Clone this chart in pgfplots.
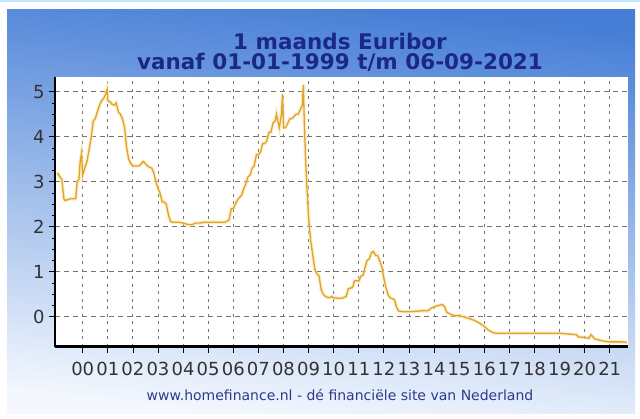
\documentclass[border=0pt]{standalone}
\usepackage{pgfplots}
\pgfplotsset{compat=1.18}
\usepackage{fontspec}
\setmainfont{DejaVu Sans}
\definecolor{titleblue}{RGB}{28,40,135}
\definecolor{footblue}{RGB}{44,58,140}
\definecolor{panelTop}{RGB}{70,126,214}
\definecolor{panelMid}{RGB}{160,194,238}
\definecolor{panelBot}{RGB}{244,248,254}
\definecolor{eurline}{RGB}{224,164,46}
\definecolor{eurglow}{RGB}{250,225,160}
\definecolor{ticktext}{RGB}{50,50,50}
\pgfplotstableread{
x y
1999.00 3.20
1999.04 3.15
1999.10 3.10
1999.17 3.05
1999.25 2.62
1999.30 2.58
1999.40 2.60
1999.50 2.62
1999.60 2.62
1999.72 2.62
1999.78 3.00
1999.85 3.05
1999.90 3.45
1999.95 3.62
2000.00 3.15
2000.08 3.30
2000.17 3.45
2000.25 3.70
2000.33 3.95
2000.42 4.35
2000.50 4.40
2000.58 4.55
2000.67 4.70
2000.75 4.80
2000.83 4.85
2000.92 4.95
2000.97 5.05
2001.00 4.80
2001.08 4.78
2001.17 4.72
2001.25 4.70
2001.33 4.75
2001.42 4.55
2001.50 4.50
2001.58 4.40
2001.67 4.20
2001.75 3.75
2001.83 3.50
2001.92 3.40
2002.00 3.35
2002.08 3.35
2002.17 3.35
2002.25 3.35
2002.33 3.40
2002.42 3.45
2002.50 3.40
2002.58 3.35
2002.67 3.32
2002.75 3.30
2002.83 3.20
2002.92 3.00
2003.00 2.85
2003.08 2.75
2003.17 2.55
2003.25 2.55
2003.33 2.50
2003.42 2.25
2003.50 2.12
2003.58 2.10
2003.67 2.10
2003.83 2.10
2004.00 2.08
2004.17 2.05
2004.33 2.04
2004.50 2.08
2004.67 2.08
2004.83 2.10
2005.00 2.10
2005.17 2.10
2005.33 2.10
2005.50 2.10
2005.67 2.10
2005.83 2.15
2005.92 2.40
2006.00 2.40
2006.08 2.50
2006.17 2.60
2006.25 2.65
2006.33 2.70
2006.42 2.85
2006.50 2.95
2006.58 3.10
2006.67 3.15
2006.75 3.30
2006.83 3.35
2006.92 3.60
2007.00 3.60
2007.08 3.65
2007.17 3.85
2007.25 3.85
2007.33 3.90
2007.42 4.10
2007.50 4.10
2007.58 4.30
2007.67 4.35
2007.72 4.50
2007.83 4.20
2007.92 4.50
2007.96 4.95
2008.00 4.20
2008.08 4.20
2008.17 4.30
2008.25 4.40
2008.33 4.40
2008.42 4.45
2008.50 4.50
2008.58 4.50
2008.67 4.60
2008.75 4.70
2008.79 5.15
2008.83 4.30
2008.88 3.50
2008.92 3.00
2009.00 2.20
2009.08 1.70
2009.17 1.35
2009.25 1.05
2009.33 0.95
2009.42 0.90
2009.50 0.60
2009.58 0.50
2009.67 0.45
2009.75 0.43
2009.83 0.42
2009.92 0.45
2010.00 0.42
2010.17 0.41
2010.33 0.41
2010.50 0.45
2010.58 0.62
2010.75 0.65
2010.83 0.80
2010.92 0.80
2011.00 0.79
2011.08 0.90
2011.17 0.92
2011.25 1.10
2011.33 1.25
2011.42 1.28
2011.50 1.42
2011.58 1.45
2011.67 1.36
2011.75 1.36
2011.83 1.25
2011.92 1.10
2012.00 0.85
2012.08 0.65
2012.17 0.48
2012.25 0.42
2012.33 0.40
2012.42 0.38
2012.50 0.22
2012.58 0.13
2012.75 0.11
2013.00 0.11
2013.25 0.12
2013.50 0.13
2013.75 0.13
2013.92 0.20
2014.00 0.22
2014.17 0.25
2014.33 0.27
2014.42 0.22
2014.50 0.10
2014.67 0.05
2014.83 0.02
2015.00 0.02
2015.17 0.00
2015.33 -0.03
2015.50 -0.06
2015.67 -0.10
2015.83 -0.15
2016.00 -0.22
2016.17 -0.30
2016.33 -0.35
2016.50 -0.37
2017.00 -0.37
2018.00 -0.37
2019.00 -0.37
2019.67 -0.40
2019.75 -0.45
2020.00 -0.46
2020.17 -0.48
2020.25 -0.40
2020.33 -0.45
2020.42 -0.50
2020.58 -0.52
2020.83 -0.55
2021.00 -0.56
2021.50 -0.56
2021.68 -0.57
}\euribor
\begin{document}
\begin{tikzpicture}
\begin{scope}[x=1pt,y=1pt]
\fill[white] (0,0) rectangle (640,419);
\fill[cyan!25] (0,417) rectangle (640,419);
\shade[top color=panelTop, middle color=panelMid, bottom color=panelBot, shading angle=-6] (7,5) rectangle (635,409);
\end{scope}
\begin{axis}[
  at={(55pt,72.3pt)}, anchor=south west,
  scale only axis, width=573.3pt, height=269.4pt,
  xmin=1998.896, xmax=2021.737, ymin=-0.667, ymax=5.32,
  axis lines=left,
  axis line style={-, line width=2.6pt, black},
  axis background/.style={fill=white},
  xtick={2000,...,2021},
  xticklabels={00,01,02,03,04,05,06,07,08,09,10,11,12,13,14,15,16,17,18,19,20,21},
  ytick={0,1,2,3,4,5},
  minor x tick num=4,
  minor y tick num=3,
  tick align=outside,
  major tick length=6pt, minor tick length=3pt,
  every tick/.style={black, line width=0.8pt},
  grid=major,
  major x grid style={dash pattern=on 3pt off 4.5pt, gray!90!black, line width=0.9pt},
  major y grid style={dash pattern=on 5pt off 4pt, gray!90!black, line width=0.9pt},
  /pgf/number format/assume math mode=true,
  xticklabel style={font=\fontsize{18}{18}\selectfont, text=ticktext, anchor=north, yshift=-6pt},
  yticklabel style={font=\fontsize{18}{18}\selectfont, text=ticktext, anchor=east, xshift=-1pt},
  clip=true,
]
\addplot[eurglow, line width=3.5pt, opacity=0.6] table[x=x, y=y] {\euribor};
\addplot[eurline, line width=1.3pt] table[x=x, y=y] {\euribor};
\end{axis}
\begin{scope}[x=1pt,y=1pt]
\node[font=\bfseries\fontsize{21.5}{21.5}\selectfont, text=titleblue, anchor=base] at (340,369) {1 maands Euribor};
\node[font=\bfseries\fontsize{21.5}{21.5}\selectfont, text=titleblue, anchor=base] at (340,349) {vanaf 01-01-1999 t/m 06-09-2021};
\node[font=\fontsize{14}{14}\selectfont, text=footblue, anchor=base] at (340,18) {www.homefinance.nl - dé financiële site van Nederland};
\end{scope}
\end{tikzpicture}
\end{document}
